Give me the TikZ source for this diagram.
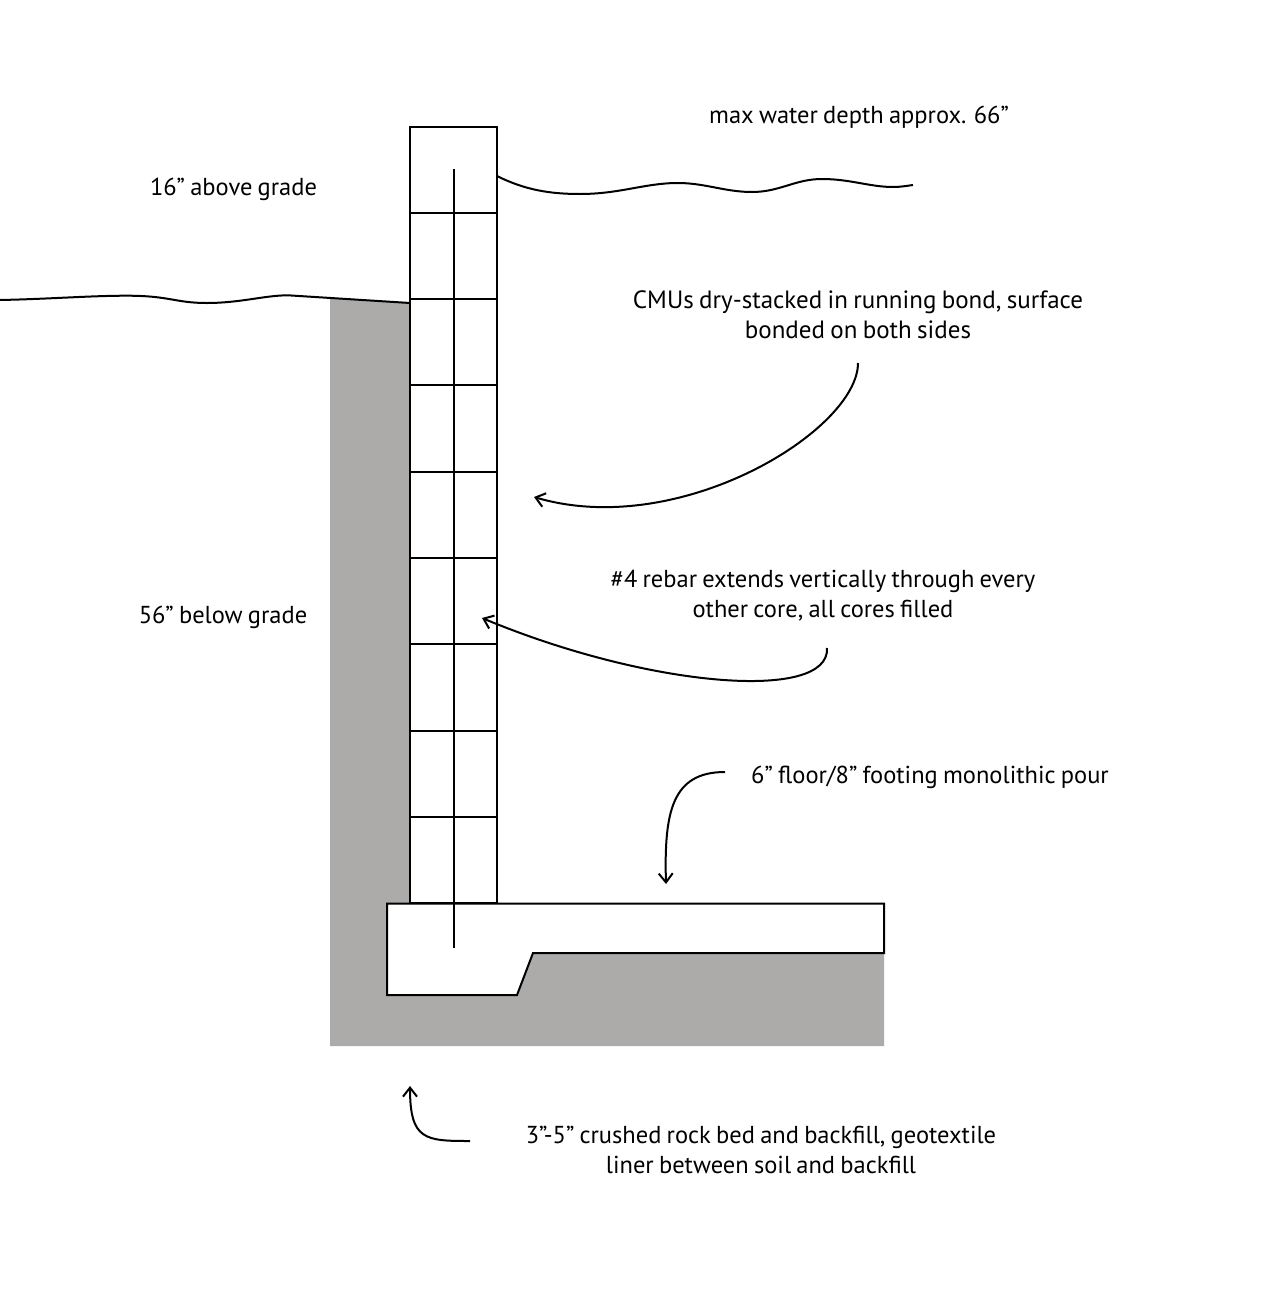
\documentclass[tikz,border=0pt]{standalone}
\usepackage{fontspec}
\setmainfont[WordSpace=0.8]{PT Sans}
\usetikzlibrary{arrows.meta}
\definecolor{backfill}{HTML}{ACABAA}
\tikzset{
    wall/.style={draw=black,fill=white,line width=2pt},
    note/.style={inner sep=0pt,align=center,font=\fontsize{24.5}{30}\selectfont},
    widenote/.style={note,font=\fontsize{25}{30}\selectfont},
    curve/.style={draw=black,line width=2pt},
    pointer/.style={curve,-{Straight Barb[length=9pt,width=14pt,line width=2pt]}}
}
\begin{document}
\begin{tikzpicture}[x=1pt,y=-1pt]
    \useasboundingbox (0,0) rectangle (1276,1309);
    \fill[white] (0,0) rectangle (1276,1309);
    % backfill
    \fill[backfill] (330,298) -- (410,303) -- (410,903) -- (884,903) -- (884,1046) -- (330,1046) -- cycle;
    % blocks
    \foreach \row in {0,...,8}
        \draw[wall] (410,{126.5+86.3*\row}) rectangle (497,{126.5+86.3*(\row+1)});
    % footing
    \node[inner sep=0pt] (footing) at (387,903.5) {};
    \draw[wall] (footing.center) -- (884,903.5) -- (884,953) -- (533,953) -- (517,995) -- (387,995) -- cycle;
    \coordinate (rebartop) at (453.5,169);
    \coordinate (rebarbot) at (453.5,948);
    \draw[curve] (rebartop) -- (rebarbot);
    % water and grade
    \coordinate (waterstart) at (497,176);
    \coordinate (waterend) at (913,185);
    \draw[curve] (waterstart) .. controls (525,190) and (550,194) .. (580,194)
        .. controls (620,194) and (645,183) .. (678,183)
        .. controls (705,183) and (725,192) .. (752,192)
        .. controls (780,192) and (795,179) .. (822,179)
        .. controls (850,179) and (870,187) .. (893,187)
        .. controls (900,187) and (906,186) .. (waterend);
    \coordinate (gradestart) at (0,300);
    \coordinate (gradeend) at (410,303);
    \draw[curve] (gradestart) .. controls (50,299) and (90,295.7) .. (127,295.7)
        .. controls (170,295.7) and (175,303) .. (207,303)
        .. controls (240,303) and (265,295.3) .. (288,295.3)
        -- (gradeend);
    % labels
    \node[note] (water) at (859,117) {max water depth approx. 66”};
    \node[note] (above) at (233.5,189) {16” above grade};
    \node[note] (below) at (223,617) {56” below grade};
    \node[widenote] (cmu) at (858,314.5) {CMUs dry-stacked in running bond, surface\\bonded on both sides};
    \node[note] (rebar) at (823,596) {\#4 rebar extends vertically through every\\other core, all cores filled};
    \node[note] (floor) at (930,777) {6” floor/8” footing monolithic pour};
    \node[note] (rock) at (761,1149.5) {3”-5” crushed rock bed and backfill, geotextile\\liner between soil and backfill};
    % pointers
    \coordinate (cmustart) at (858,363);
    \coordinate (cmuend) at (534,497);
    \coordinate (rebarstart) at (827,648);
    \coordinate (rebarend) at (482,618);
    \coordinate (floorstart) at (725,772);
    \coordinate (floorend) at (666,884);
    \coordinate (rockstart) at (470,1141);
    \coordinate (rockend) at (410,1086);
    \draw[pointer] (cmustart) .. controls (858,430) and (680,540) .. (cmuend);
    \draw[pointer] (rebarstart) .. controls (830,702) and (650,688) .. (rebarend);
    \draw[pointer] (floorstart) .. controls (672,772) and (664,812) .. (floorend);
    \draw[pointer] (rockstart) .. controls (425,1141) and (410,1140) .. (rockend);
\end{tikzpicture}
\end{document}
